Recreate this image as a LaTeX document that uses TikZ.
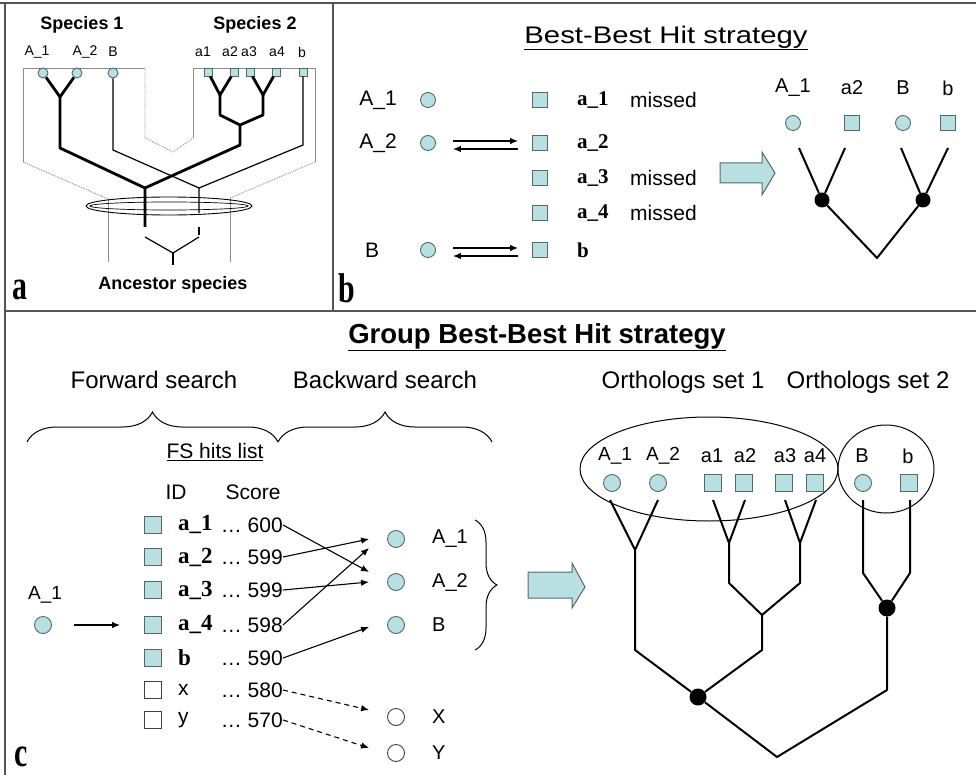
\documentclass[tikz,border=0pt]{standalone}
\usepackage{fontspec}
\setmainfont{Liberation Sans}
\newfontfamily\timesfont{Liberation Serif}
\usetikzlibrary{arrows.meta,decorations.pathreplacing}

\definecolor{genefill}{RGB}{184,224,226}
\definecolor{generim}{RGB}{85,105,105}
\definecolor{framegray}{RGB}{85,85,85}
\definecolor{guidegray}{RGB}{140,140,140}

\newcommand{\fsz}[1]{\fontsize{#1}{#1}\selectfont}
\newcommand{\gid}[1]{{\timesfont\bfseries #1}}
\newcommand{\panelmark}[1]{\scalebox{1.15}[1.6]{\fsz{26}\timesfont\bfseries #1}}

\tikzset{
  sp/.style={circle,draw=generim,fill=genefill,line width=0.9pt,inner sep=0pt,minimum size=#1},
  sp/.default=16pt,
  sq/.style={rectangle,draw=generim,fill=genefill,line width=0.9pt,inner sep=0pt,minimum size=#1},
  sq/.default=16pt,
  spw/.style={sp=#1,fill=white,draw=black!75},
  spw/.default=16pt,
  sqw/.style={sq=#1,fill=white,draw=black!75},
  sqw/.default=16pt,
  txt/.style={inner sep=0pt,font=\fsz{#1}},
  txt/.default=21,
  dot/.style={circle,fill=black,inner sep=0pt,minimum size=#1},
  dot/.default=16pt,
  guide/.style={guidegray,line width=0.9pt},
  heavy/.style={line width=2.8pt,line join=round},
  light/.style={line width=1.2pt},
  tree/.style={line width=2pt,line join=round},
  hitarr/.style={line width=1.1pt,-{Latex[length=8pt,width=6.5pt]}},
  missarr/.style={hitarr,dash pattern=on 5pt off 4pt},
  fatarrow/.style={draw=generim,fill=genefill,line width=1pt},
  lbrace/.style={decorate,decoration={brace,amplitude=#1},line width=1pt},
}

\begin{document}
\begin{tikzpicture}[x=1pt,y=-1pt]
  \useasboundingbox (0,0) rectangle (976,775);
  % frame
  \draw[framegray,line width=2pt] (0,3) -- (976,3);
  \draw[framegray,line width=1.5pt] (5,3) -- (5,775);
  \draw[framegray,line width=1.5pt] (5,311) -- (976,311);
  \draw[framegray,line width=1.5pt] (333,3) -- (333,311);

  % ---- panel a ----
  \draw[guide] (108,262) -- (108,199);
  \draw[guide,densely dotted] (108,199) -- (23,162);
  \draw[guide] (23,162) -- (23,68) -- (145,68);
  \draw[guide,densely dotted] (145,68) -- (145,138) -- (173,152) -- (193,138);
  \draw[guide] (193,138) -- (193,68) -- (315,68) -- (315,162);
  \draw[guide,densely dotted] (315,162) -- (230,198);
  \draw[guide] (230,198) -- (230,262);
  \draw[line width=0.9pt] (169,206) ellipse [x radius=83, y radius=9];
  \draw[line width=0.7pt] (169,206) ellipse [x radius=79, y radius=4];

  \node[txt=18,font=\fsz{18}\bfseries] (spec1) at (82,25) {Species 1};
  \node[txt=18,font=\fsz{18}\bfseries] (spec2) at (255,25) {Species 2};
  \node[txt=14] (tA1) at (37,52) {A\_1};
  \node[txt=14] (tA2) at (85,52) {A\_2};
  \node[txt=14] (tB) at (113,52) {B};
  \node[txt=14] (ta1) at (203,52) {a1};
  \node[txt=14] (ta2) at (230,52) {a2};
  \node[txt=14] (ta3) at (249,52) {a3};
  \node[txt=14] (ta4) at (277,52) {a4};
  \node[txt=14] (tb) at (302,52) {b};
  \node[sp=10pt] (gA1) at (43,73) {};
  \node[sp=10pt] (gA2) at (77,73) {};
  \node[sp=10pt] (gB) at (113,73) {};
  \node[sq=8pt] (ga1) at (208,72) {};
  \node[sq=8pt] (ga2) at (234,72) {};
  \node[sq=8pt] (ga3) at (250,72) {};
  \node[sq=8pt] (ga4) at (276,72) {};
  \node[sq=8pt] (gb) at (303,72) {};

  \coordinate (jA) at (60,97);
  \coordinate (j12) at (220,95);
  \coordinate (j34) at (263,95);
  \coordinate (jaa) at (240,125);
  \coordinate (jroot) at (145,188);
  \coordinate (jB) at (199,188);
  \draw[heavy] (gA1) -- (jA) -- (gA2);
  \draw[heavy] (jA) -- (60,148) -- (jroot) -- (145,227);
  \draw[heavy] (ga1) -- (j12) -- (ga2);
  \draw[heavy] (ga3) -- (j34) -- (ga4);
  \draw[heavy] (j12) -- (220,115) -- (jaa) -- (263,115) -- (j34);
  \draw[heavy] (jaa) -- (240,145) -- (jroot);
  \draw[light] (gB) -- (113,150) -- (jB) -- (199,213);
  \draw[light] (gb) -- (303,145) -- (jB);
  \draw[light] (199,227) -- (199,235);
  \draw[light] (145,237) -- (173,253) -- (199,237);
  \draw[light] (173,253) -- (173,265);
  \node[txt=18,font=\fsz{18}\bfseries] (anc) at (173,285) {Ancestor species};
  \node[inner sep=0pt] (pa) at (20,290) {\panelmark{a}};

  % ---- panel b ----
  \node[txt=24] (titleb) at (666,38) {\scalebox{1.22}[1]{\underline{Best-Best Hit strategy}}};
  \node[txt] (bA1) at (378,100) {A\_1};
  \node[txt] (bA2) at (378,143) {A\_2};
  \node[txt] (bB) at (372,250) {B};
  \node[sp=15pt] (cA1) at (428,100) {};
  \node[sp=15pt] (cA2) at (428,143) {};
  \node[sp=15pt] (cB) at (428,250) {};
  \foreach \n/\y in {1/100,2/143,3/178,4/213,5/250}
    \node[sq=15pt] (qb\n) at (540,\y) {};
  \node[txt,anchor=west] (ib1) at (577,100) {\gid{a\_1}};
  \node[txt,anchor=west] (ib2) at (577,143) {\gid{a\_2}};
  \node[txt,anchor=west] (ib3) at (577,178) {\gid{a\_3}};
  \node[txt,anchor=west] (ib4) at (577,213) {\gid{a\_4}};
  \node[txt,anchor=west] (ib5) at (577,250) {\gid{b}};
  \node[txt,anchor=west] (m1) at (630,100) {missed};
  \node[txt,anchor=west] (m3) at (630,178) {missed};
  \node[txt,anchor=west] (m4) at (630,213) {missed};
  \draw[hitarr,shorten <=17pt,shorten >=14pt] ([yshift=2pt]cA2.east) -- ([yshift=2pt]qb2.west);
  \draw[hitarr,shorten <=14pt,shorten >=17pt] ([yshift=-6pt]qb2.west) -- ([yshift=-6pt]cA2.east);
  \draw[hitarr,shorten <=17pt,shorten >=14pt] ([yshift=2pt]cB.east) -- ([yshift=2pt]qb5.west);
  \draw[hitarr,shorten <=14pt,shorten >=17pt] ([yshift=-6pt]qb5.west) -- ([yshift=-6pt]cB.east);
  \draw[fatarrow] (720,163) -- (762,163) -- (762,152) -- (775,173) -- (762,195) -- (762,183) -- (720,183) -- cycle;

  \node[txt=20] (rA1) at (793,88) {A\_1};
  \node[txt=20] (ra2) at (852,88) {a2};
  \node[txt=20] (rB) at (903,88) {B};
  \node[txt=20] (rb) at (948,88) {b};
  \node[sp=15pt] (oA1) at (793,123) {};
  \node[sq=15pt] (oa2) at (852,123) {};
  \node[sp=15pt] (oB) at (903,123) {};
  \node[sq=15pt] (ob) at (948,123) {};
  \node[dot=15pt] (d1) at (822,200) {};
  \node[dot=15pt] (d2) at (923,200) {};
  \coordinate (s1) at (799,148);
  \coordinate (s2) at (845,148);
  \coordinate (s3) at (901,148);
  \coordinate (s4) at (948,148);
  \coordinate (rootb) at (877,258);
  \draw[tree] (s1) -- (d1) -- (s2);
  \draw[tree] (s3) -- (d2) -- (s4);
  \draw[tree] (d1) -- (rootb) -- (d2);
  \node[inner sep=0pt] (pb) at (347,288) {\panelmark{b}};

  % ---- panel c ----
  \node[txt=27.5,font=\fsz{27.5}\bfseries] (titlec) at (537,337) {\underline{Group Best-Best Hit strategy}};
  \node[txt=24] (fwd) at (154,380) {Forward search};
  \node[txt=24] (bwd) at (385,380) {Backward search};
  \node[txt=24] (os1) at (683,382) {Orthologs set 1};
  \node[txt=24] (os2) at (868,382) {Orthologs set 2};
  \draw[lbrace=30pt] (27,442) -- (278,442);
  \draw[lbrace=30pt] (278,442) -- (492,442);

  \node[txt] (fslist) at (215,452) {\underline{FS hits list}};
  \node[txt] (idh) at (176,492) {ID};
  \node[txt] (sch) at (253,492) {Score};
  \node[txt=19] (qA1) at (45,595) {A\_1};
  \node[sp=17pt] (cq) at (43,625) {};

  \node[sq=17pt] (h1) at (153,525) {};
  \node[sq=17pt] (h2) at (153,557) {};
  \node[sq=17pt] (h3) at (153,590) {};
  \node[sq=17pt] (h4) at (153,625) {};
  \node[sq=17pt] (h5) at (153,658) {};
  \node[sqw=17pt] (h6) at (153,690) {};
  \node[sqw=17pt] (h7) at (153,720) {};
  \node[txt=23,anchor=west] (id1) at (178,525) {\gid{a\_1}};
  \node[txt=23,anchor=west] (id2) at (178,557) {\gid{a\_2}};
  \node[txt=23,anchor=west] (id3) at (178,590) {\gid{a\_3}};
  \node[txt=23,anchor=west] (id4) at (178,625) {\gid{a\_4}};
  \node[txt=23,anchor=west] (id5) at (178,658) {\gid{b}};
  \node[txt,anchor=west] (id6) at (178,690) {x};
  \node[txt,anchor=west] (id7) at (178,720) {y};
  \node[txt,anchor=east] (sc1) at (283,525) {\ldots\ 600};
  \node[txt,anchor=east] (sc2) at (283,557) {\ldots\ 599};
  \node[txt,anchor=east] (sc3) at (283,590) {\ldots\ 599};
  \node[txt,anchor=east] (sc4) at (283,625) {\ldots\ 598};
  \node[txt,anchor=east] (sc5) at (283,658) {\ldots\ 590};
  \node[txt,anchor=east] (sc6) at (283,690) {\ldots\ 580};
  \node[txt,anchor=east] (sc7) at (283,720) {\ldots\ 570};
  \draw[hitarr,shorten <=22pt,shorten >=24pt] (cq) -- (h4);

  \node[sp=17pt] (kA1) at (396,539) {};
  \node[sp=17pt] (kA2) at (396,582) {};
  \node[sp=17pt] (kB) at (396,625) {};
  \node[spw=17pt] (kX) at (396,717) {};
  \node[spw=17pt] (kY) at (396,753) {};
  \node[txt=20,anchor=west] (lA1) at (432,539) {A\_1};
  \node[txt=20,anchor=west] (lA2) at (432,582) {A\_2};
  \node[txt=20,anchor=west] (lB) at (432,625) {B};
  \node[txt=20,anchor=west] (lX) at (432,717) {X};
  \node[txt=20,anchor=west] (lY) at (432,753) {Y};
  \draw[hitarr] (sc1.east) -- ([shift={(-18,-10)}]kA2.west);
  \draw[hitarr] (sc2.east) -- ([shift={(-18,0)}]kA1.west);
  \draw[hitarr] (sc3.east) -- ([shift={(-18,0)}]kA2.west);
  \draw[hitarr] (sc4.east) -- ([shift={(-18,9)}]kA1.west);
  \draw[hitarr] (sc5.east) -- ([shift={(-18,2)}]kB.west);
  \draw[missarr] (sc6.east) -- ([shift={(-18,-7)}]kX.west);
  \draw[missarr] (sc7.east) -- ([shift={(-18,-5)}]kY.west);
  \draw[lbrace=22pt] (475,520) -- (475,650);
  \draw[fatarrow] (528,572) -- (572,572) -- (572,563) -- (585,587) -- (572,608) -- (572,598) -- (528,598) -- cycle;

  \draw[line width=1pt] (709,469) ellipse [x radius=129, y radius=52];
  \draw[line width=1pt] (886,469) ellipse [x radius=48, y radius=44];
  \node[txt=19] (uA1) at (615,456) {A\_1};
  \node[txt=19] (uA2) at (663,456) {A\_2};
  \node[txt=20] (ua1) at (712,456) {a1};
  \node[txt=20] (ua2) at (745,456) {a2};
  \node[txt=20] (ua3) at (785,456) {a3};
  \node[txt=20] (ua4) at (815,456) {a4};
  \node[txt=20] (uB) at (862,456) {B};
  \node[txt=20] (ub) at (908,456) {b};
  \node[sp=17pt] (vA1) at (612,483) {};
  \node[sp=17pt] (vA2) at (658,483) {};
  \node[sq=17pt] (va1) at (713,483) {};
  \node[sq=17pt] (va2) at (744,483) {};
  \node[sq=17pt] (va3) at (784,483) {};
  \node[sq=17pt] (va4) at (815,483) {};
  \node[sp=17pt] (vB) at (863,483) {};
  \node[sq=17pt] (vb) at (909,483) {};
  \node[dot=17pt] (e1) at (698,697) {};
  \node[dot=17pt] (e2) at (887,608) {};
  \coordinate (wA1) at (610,500);
  \coordinate (wA2) at (658,500);
  \coordinate (wa1) at (713,500);
  \coordinate (wa2) at (745,500);
  \coordinate (wa3) at (785,500);
  \coordinate (wa4) at (816,500);
  \coordinate (wB) at (863,500);
  \coordinate (wb) at (910,500);
  \coordinate (yA) at (635,550);
  \coordinate (y12) at (729,543);
  \coordinate (y34) at (800,543);
  \coordinate (ya) at (762,615);
  \coordinate (rootc) at (777,757);
  \draw[tree] (wA1) -- (yA) -- (wA2);
  \draw[tree] (wa1) -- (y12) -- (wa2);
  \draw[tree] (wa3) -- (y34) -- (wa4);
  \draw[tree] (y12) -- (729,583) -- (ya) -- (800,583) -- (y34);
  \draw[tree] (yA) -- (635,650) -- (e1) -- (762,650) -- (ya);
  \draw[tree] (wB) -- (863,573) -- (e2) -- (910,573) -- (wb);
  \draw[tree] (e2) -- (887,690) -- (rootc) -- (e1);
  \node[inner sep=0pt] (pc) at (21,757) {\panelmark{c}};
\end{tikzpicture}
\end{document}
